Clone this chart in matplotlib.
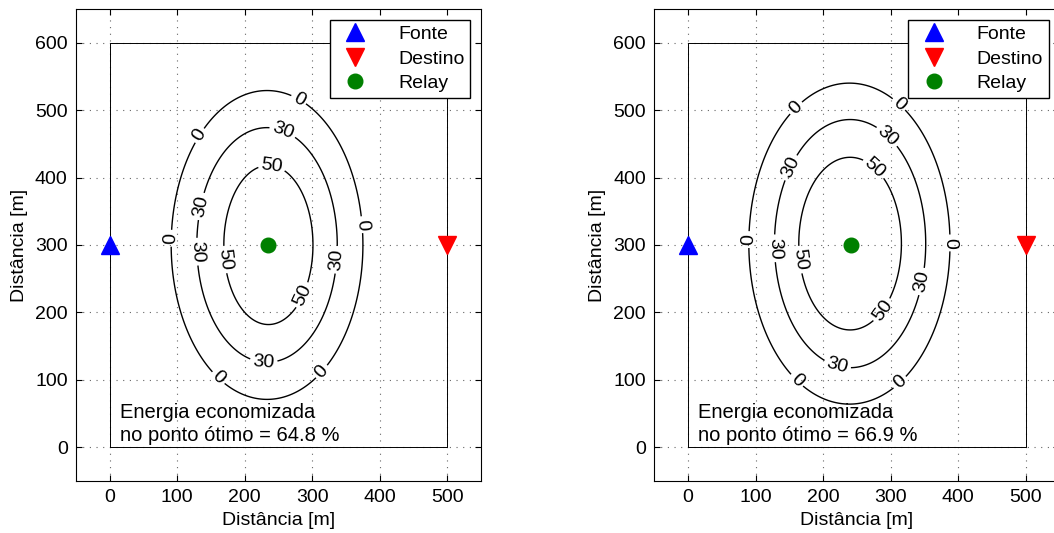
import matplotlib
matplotlib.use('Agg')
import matplotlib.pyplot as plt
import numpy as np

plt.rcParams['font.family'] = ['Liberation Sans', 'DejaVu Sans']

# contour levels (energia economizada, %)
levels = [0, 30, 50]

# ellipse: centre x, centre y, half width, half height [m]
left_cx = [233, 233, 235]
left_cy = [300, 300, 300]
left_ax = [142, 104, 66]
left_ay = [229, 174, 118]

right_cx = [239, 240, 240]
right_cy = [302, 302, 302]
right_ax = [149, 112, 76]
right_ay = [238, 184, 128]

fonte = (0, 300)
destino = (500, 300)
relay_left = (235, 300)
relay_right = (242, 300)
savings = [64.8, 66.9]

# label spots for each level (left, right)
left_lab = {0: [(279, 514), (132, 463), (90, 310), (373, 330), (159, 101), (312, 114)],
            30: [(256, 468), (136, 357), (128, 290), (337, 278), (228, 126)],
            50: [(240, 416), (166, 278), (287, 225)]}
right_lab = {0: [(160, 503), (311, 507), (90, 308), (388, 303), (159, 97), (313, 97)],
             30: [(151, 415), (293, 459), (127, 295), (345, 246), (221, 121)],
             50: [(275, 413), (164, 278), (287, 204)]}

xx, yy = np.meshgrid(np.linspace(-50, 550, 601), np.linspace(-50, 650, 701))

fig = plt.figure(figsize=(10.54, 5.33), dpi=100)
ax1 = fig.add_axes([0.0721, 0.0976, 0.3843, 0.8856])
ax2 = fig.add_axes([0.6208, 0.0976, 0.3843, 0.8856])


def draw(ax, cx, cy, sx, sy, relay, labpos, sav):
    ax.plot([0, 500, 500, 0, 0], [0, 0, 600, 600, 0], color='k', lw=0.7)
    for i, lev in enumerate(levels):
        r = np.sqrt(((xx - cx[i]) / sx[i]) ** 2 + ((yy - cy[i]) / sy[i]) ** 2)
        cs = ax.contour(xx, yy, r, levels=[1.0], colors='k', linewidths=1.0)
        ax.clabel(cs, fmt={1.0: str(lev)}, manual=labpos[lev], inline=True,
                  inline_spacing=3, fontsize=14)
    ax.plot(*fonte, '^', color='b', ms=13, label='Fonte', ls='none')
    ax.plot(*destino, 'v', color='r', ms=13, label='Destino', ls='none')
    ax.plot(*relay, 'o', color='g', ms=10.5, label='Relay', ls='none')
    ax.set_xlim(-50, 550)
    ax.set_ylim(-50, 650)
    ax.set_xticks(np.arange(0, 501, 100))
    ax.set_yticks(np.arange(0, 601, 100))
    ax.grid(True, ls=(0, (1, 5)), color='0.4', lw=0.8)
    ax.tick_params(direction='in', top=True, right=True, length=4, labelsize=14, pad=6)
    ax.set_xlabel('Distância [m]', fontsize=14, labelpad=4)
    ax.set_ylabel('Distância [m]', fontsize=14, labelpad=5)
    ax.text(15, 3, 'Energia economizada\nno ponto ótimo = %.1f %%' % sav,
            fontsize=14.5, va='bottom', ha='left', linespacing=1.3)
    leg = ax.legend(loc='upper right', fontsize=14, fancybox=False, framealpha=1,
                    edgecolor='k', borderaxespad=0.55, handletextpad=1.2,
                    labelspacing=0.35, borderpad=0.3, numpoints=1)
    leg.get_frame().set_linewidth(1.0)


draw(ax1, left_cx, left_cy, left_ax, left_ay, relay_left, left_lab, savings[0])
draw(ax2, right_cx, right_cy, right_ax, right_ay, relay_right, right_lab, savings[1])

fig.savefig('out.png', dpi=100)
